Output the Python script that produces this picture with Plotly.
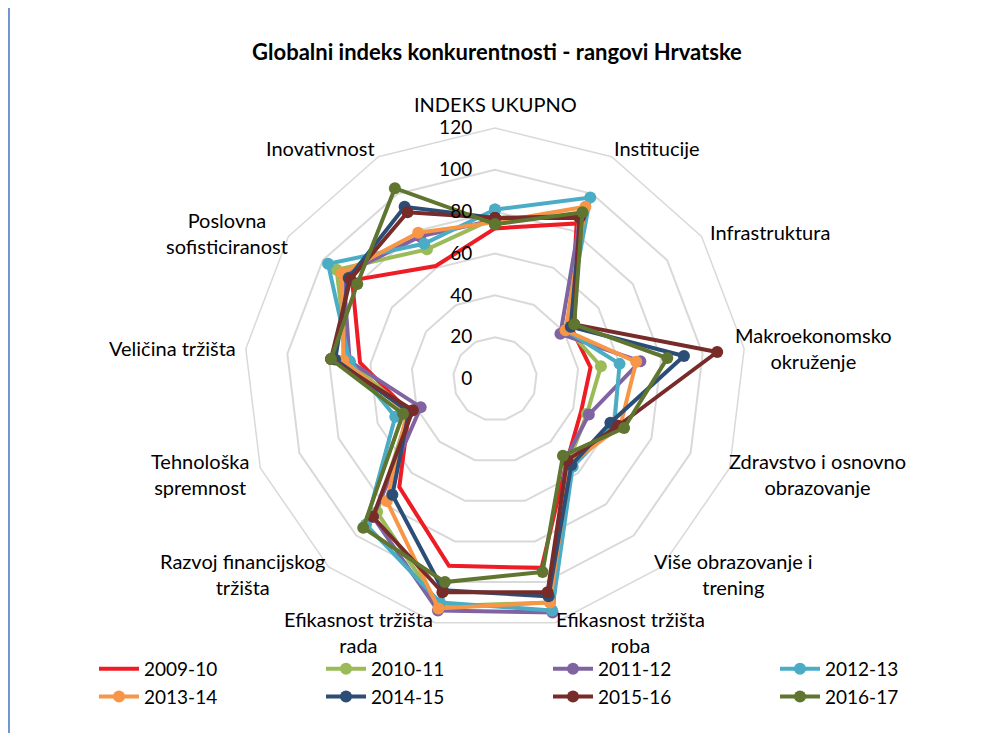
import plotly.graph_objects as go

# kategorije (stupovi GCI)
categories = [
    'INDEKS UKUPNO', 'Institucije', 'Infrastruktura',
    'Makroekonomsko<br>okruženje', 'Zdravstvo i osnovno<br>obrazovanje',
    'Više obrazovanje i<br>trening', 'Efikasnost tržišta<br>roba',
    'Efikasnost tržišta<br>rada', 'Razvoj financijskog<br>tržišta',
    'Tehnološka<br>spremnost', 'Veličina tržišta',
    'Poslovna<br>sofisticiranost', 'Inovativnost',
]

# rangovi po godinama (procjena s grafa)
r_2009_10 = [72, 84, 44, 46, 44, 52, 93, 92, 69, 44, 65, 83, 61]
r_2010_11 = [77, 87, 42, 51, 47, 53, 110, 112, 85, 44, 71, 92, 70]
r_2011_12 = [76, 88, 38, 70, 48, 51, 115, 114, 88, 38, 70, 88, 77]
r_2012_13 = [81, 98, 41, 60, 61, 56, 114, 110, 93, 51, 70, 97, 73]
r_2013_14 = [75, 93, 41, 68, 64, 54, 110, 113, 78, 45, 73, 89, 79]
r_2014_15 = [77, 88, 44, 91, 59, 55, 107, 104, 74, 44, 77, 85, 93]
r_2015_16 = [77, 87, 46, 107, 63, 52, 105, 105, 88, 42, 79, 84, 90]
r_2016_17 = [74, 90, 46, 83, 66, 49, 95, 100, 95, 47, 79, 80, 103]

years = ['2009-10', '2010-11', '2011-12', '2012-13', '2013-14', '2014-15', '2015-16', '2016-17']
series = [r_2009_10, r_2010_11, r_2011_12, r_2012_13, r_2013_14, r_2014_15, r_2015_16, r_2016_17]
colors = ['#EE1C25', '#9BBB59', '#8064A2', '#4BACC6', '#F79646', '#2C4D75', '#772C2A', '#5F7530']

FONT = 'Lato'
W, H = 995, 733
OFF = 8  # body margin of the html page

# where the category labels sit (page pixels)
label_pos = [(495, 104), (657, 148), (770, 232), (813, 348), (817, 474),
             (733, 574), (630, 632), (358, 632), (242, 574), (200, 474),
             (172, 348), (227, 233), (320, 148)]

fig = go.Figure()
for i, (name, vals, col) in enumerate(zip(years, series, colors)):
    fig.add_trace(go.Scatterpolar(
        r=vals + vals[:1],
        theta=categories + categories[:1],
        name=name,
        mode='lines' if i == 0 else 'lines+markers',
        line=dict(color=col, width=4),
        marker=dict(size=12, color=col),
    ))

annotations = []
for txt, (px, py) in zip(categories, label_pos):
    annotations.append(dict(text=txt, xref='paper', yref='paper',
                            x=(px - OFF) / W, y=1 - (py - OFF) / H,
                            xanchor='center', yanchor='middle', showarrow=False,
                            align='center', font=dict(family=FONT, size=20, color='#000000')))

fig.update_layout(
    width=W, height=H,
    margin=dict(l=0, r=0, t=0, b=0),
    paper_bgcolor='white',
    font=dict(family=FONT, size=18, color='#000000'),
    title=dict(text='<b>Globalni indeks konkurentnosti - rangovi Hrvatske</b>',
               x=(497 - OFF) / W, xanchor='center', y=1 - (52 - OFF) / H, yanchor='middle',
               font=dict(family=FONT, size=22, color='#000000')),
    polar=dict(
        domain=dict(x=[(244 - OFF) / W, (746 - OFF) / W],
                    y=[1 - (630 - OFF) / H, 1 - (128 - OFF) / H]),
        gridshape='linear',
        bgcolor='white',
        radialaxis=dict(range=[0, 120], dtick=20, angle=90, side='counterclockwise',
                        tickangle=90, showline=False, ticks='',
                        ticksuffix='\u00a0\u00a0\u00a0\u00a0',
                        gridcolor='#D9D9D9', gridwidth=1.5,
                        tickfont=dict(size=19, family=FONT)),
        angularaxis=dict(rotation=90, direction='clockwise', showgrid=False,
                         showticklabels=False,
                         showline=True, linecolor='#D9D9D9', linewidth=1.5, ticks=''),
    ),
    legend=dict(orientation='h', x=(100 - OFF - 6) / W, xanchor='left',
                y=1 - (650 - OFF) / H, yanchor='top',
                entrywidth=172, entrywidthmode='pixels',
                font=dict(size=19, family=FONT), itemwidth=40),
    annotations=annotations,
    shapes=[dict(type='line', xref='paper', yref='paper', x0=0.001, x1=0.001, y0=0, y1=1,
                 line=dict(color='#4472C4', width=1.5))],
)

fig.write_html('out.html')
